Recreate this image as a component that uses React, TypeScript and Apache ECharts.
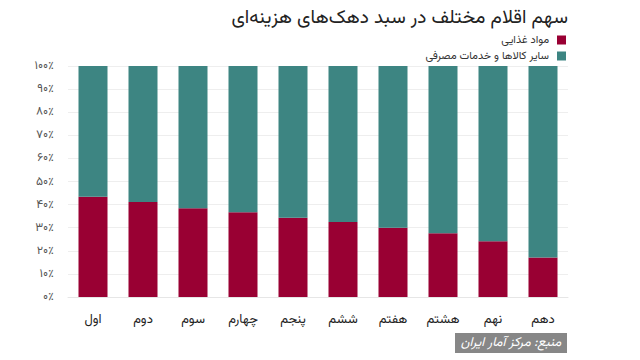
import React, { useEffect, useRef } from "react";
import * as echarts from "echarts";

const categories = ["اول", "دوم", "سوم", "چهارم", "پنجم", "ششم", "هفتم", "هشتم", "نهم", "دهم"];
const foodShare = [43.4, 41.1, 38.4, 36.7, 34.3, 32.5, 30.0, 27.6, 24.1, 17.1];
const otherShare = [56.6, 58.9, 61.6, 63.3, 65.7, 67.5, 70.0, 72.4, 75.9, 82.9];
const seriesNames = ["مواد غذایی", "سایر کالاها و خدمات مصرفی"];
const titleText = "سهم اقلام مختلف در سبد دهک‌های هزینه‌ای";
const sourceText = "منبع: مرکز آمار ایران";

const FONT = 'Vazirmatn, "DejaVu Sans", sans-serif';
const toFa = (n: number) => String(n).replace(/\d/g, (d) => "۰۱۲۳۴۵۶۷۸۹"[+d]);

const legendBase = {
  right: 74,
  align: "right",
  itemWidth: 9,
  itemHeight: 9,
  icon: "rect",
  padding: 0,
  textStyle: { fontFamily: FONT, fontSize: 11, lineHeight: 12, color: "#333", padding: [0, 3, 0, 0] },
};

export default function App() {
  const ref = useRef<HTMLDivElement>(null);
  useEffect(() => {
    document.body.style.margin = "0";
    const chart = echarts.init(ref.current!, null, { renderer: "svg" });
    chart.setOption({
      animation: false,
      backgroundColor: "#ffffff",
      textStyle: { fontFamily: FONT },
      title: {
        text: titleText,
        right: 72,
        top: 2,
        padding: [5, 0, 0, 0],
        textStyle: { fontFamily: FONT, fontSize: 19, lineHeight: 22, fontWeight: "normal", color: "#222" },
      },
      legend: [
        { ...legendBase, top: 34, data: [seriesNames[0]] },
        { ...legendBase, top: 50, data: [seriesNames[1]] },
      ],
      grid: { left: 68, right: 72, top: 66, bottom: 63 },
      xAxis: {
        type: "category",
        data: categories,
        axisTick: { show: false },
        axisLine: { lineStyle: { color: "#e6e6e6" } },
        axisLabel: { fontFamily: FONT, fontSize: 13, color: "#222", margin: 16 },
      },
      yAxis: {
        type: "value",
        min: 0,
        max: 100,
        interval: 10,
        axisLabel: { fontFamily: FONT, fontSize: 12, color: "#555", margin: 14, formatter: (v: number) => toFa(v) + "٪" },
        splitLine: { lineStyle: { color: "#eeeeee" } },
      },
      series: [
        {
          name: seriesNames[0],
          type: "bar",
          stack: "s",
          data: foodShare,
          barWidth: "58%",
          itemStyle: { color: "#990033" },
        },
        {
          name: seriesNames[1],
          type: "bar",
          stack: "s",
          data: otherShare,
          barWidth: "58%",
          itemStyle: { color: "#3d8582" },
        },
      ],
      graphic: [
        {
          type: "group",
          right: 73,
          top: 333,
          children: [
            { type: "rect", shape: { x: 0, y: 0, width: 112, height: 20 }, style: { fill: "#878787" } },
            {
              type: "text",
              x: 56,
              y: 10,
              style: {
                text: sourceText,
                fill: "#ffffff",
                fontFamily: FONT,
                fontSize: 13,
                fontStyle: "italic",
                align: "center",
                verticalAlign: "middle",
              },
            },
          ],
        },
      ],
    });
    return () => chart.dispose();
  }, []);
  return <div ref={ref} style={{ width: 640, height: 360 }} />;
}
